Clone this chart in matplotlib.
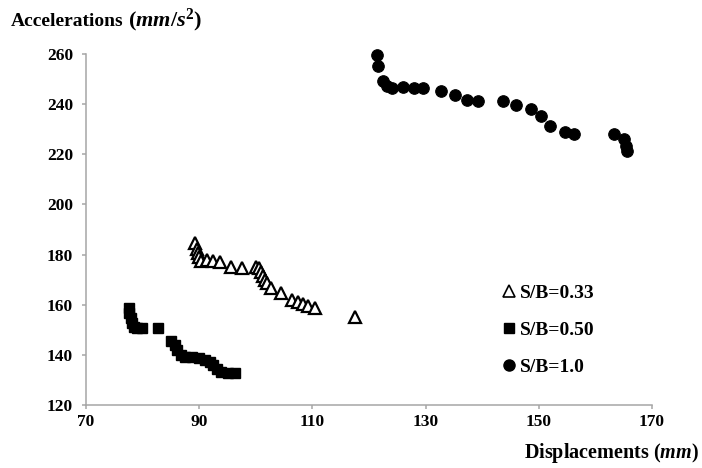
import matplotlib
matplotlib.use("Agg")
import matplotlib.pyplot as plt

# Data
tri_x = [89.3, 89.6, 89.7, 90.0, 90.3, 91.4, 92.5, 93.7, 95.6, 97.5, 100.0, 100.6,
         101.0, 101.3, 101.6, 102.0, 102.6, 104.4, 106.4, 107.5, 108.3, 109.3, 110.4, 117.6]
tri_y = [184.8, 182.1, 180.5, 178.9, 177.6, 177.9, 177.6, 177.2, 175.2, 174.6, 175.2, 174.6,
         173.1, 171.4, 169.8, 168.5, 166.8, 164.8, 161.9, 161.2, 160.3, 159.5, 158.6, 155.2]

sq_x = [77.6, 77.6, 77.9, 78.1, 78.4, 79.0, 79.9, 82.8, 85.1, 85.7, 86.1, 86.7, 87.5,
        88.7, 89.9, 91.0, 91.9, 92.5, 93.1, 93.9, 95.1, 96.3]
sq_y = [158.6, 156.6, 154.6, 152.6, 151.0, 150.6, 150.6, 150.8, 145.7, 144.0, 142.0, 140.0,
        139.3, 139.3, 138.7, 138.0, 137.3, 136.0, 134.3, 133.3, 132.9, 132.9]

ci_x = [121.5, 121.6, 122.5, 123.1, 124.0, 126.0, 127.9, 129.6, 132.7, 135.2, 137.4, 139.2,
        143.6, 146.0, 148.6, 150.4, 151.9, 154.6, 156.3, 163.2, 165.0, 165.4, 165.6]
ci_y = [259.6, 255.2, 249.1, 247.4, 246.5, 246.7, 246.5, 246.5, 245.2, 243.6, 241.7, 241.1,
        241.1, 239.8, 238.0, 235.4, 231.2, 229.0, 227.9, 228.1, 225.9, 223.5, 221.5]

labels = ["S/B=0.33", "S/B=0.50", "S/B=1.0"]
x_ticks = [70, 90, 110, 130, 150, 170]
y_ticks = [120, 140, 160, 180, 200, 220, 240, 260]

plt.rcParams['mathtext.fontset'] = 'custom'
plt.rcParams['mathtext.rm'] = 'Liberation Serif:bold'
plt.rcParams['mathtext.it'] = 'Liberation Serif:italic:bold'
plt.rcParams['mathtext.bf'] = 'Liberation Serif:bold'

GRAY = '#a6a6a6'
fig = plt.figure(figsize=(7.02, 4.68), dpi=100)
ax = fig.add_axes([86 / 702, 1 - 405 / 468, 566 / 702, 351 / 468])

ax.plot(tri_x, tri_y, linestyle='none', marker='^', markersize=8.5,
        markerfacecolor='white', markeredgecolor='black', markeredgewidth=1.6, clip_on=False)
ax.plot(sq_x, sq_y, linestyle='none', marker='s', markersize=7, color='black', clip_on=False)
ax.plot(ci_x, ci_y, linestyle='none', marker='o', markersize=8.3, markeredgewidth=0.8,
        color='black', clip_on=False)

ax.set_xlim(70, 170)
ax.set_ylim(120, 260)
ax.set_xticks(x_ticks)
ax.set_yticks(y_ticks)
for sp in ['top', 'right']:
    ax.spines[sp].set_visible(False)
for sp in ['left', 'bottom']:
    ax.spines[sp].set_color(GRAY)
    ax.spines[sp].set_linewidth(1.1)
ax.tick_params(direction='out', length=3, width=1.1, color=GRAY)
ax.tick_params(axis='x', pad=3.8)
ax.tick_params(axis='y', pad=6.3)
for lab in ax.get_xticklabels() + ax.get_yticklabels():
    lab.set_fontfamily('Liberation Serif')
    lab.set_fontweight('bold')
    lab.set_fontsize(12.5)

# y-axis title (two parts, math part larger as in reference)
t1 = fig.text(11 / 702, 1 - 26 / 468, "Accelerations", fontfamily='Liberation Serif',
              fontweight='bold', fontsize=14, ha='left', va='baseline')
fig.canvas.draw()
bb = t1.get_window_extent(renderer=fig.canvas.get_renderer())
fig.text((bb.x1 + 4) / 702, 1 - 26 / 468, r"($mm/s^2$)", fontfamily='Liberation Serif',
         fontweight='bold', fontsize=16, ha='left', va='baseline')

fig.text(699 / 702, 1 - 458 / 468, r"Displacements ($mm$)", fontfamily='Liberation Serif',
         fontweight='bold', fontsize=14.5, ha='right', va='baseline')

lt1, = ax.plot([], [], linestyle='none', marker='^', markersize=8,
               markerfacecolor='white', markeredgecolor='black', markeredgewidth=1.2)
lt2, = ax.plot([], [], linestyle='none', marker='s', markersize=7, color='black')
lt3, = ax.plot([], [], linestyle='none', marker='o', markersize=8, color='black')
ax.legend([lt1, lt2, lt3], labels, loc='center left', bbox_to_anchor=(0.707, 0.2135),
          frameon=False, handlelength=0.6, handletextpad=0.25, labelspacing=0.98,
          borderpad=0.4,
          prop={'family': 'Liberation Serif', 'weight': 'bold', 'size': 14})

fig.savefig("out.png", dpi=100)
